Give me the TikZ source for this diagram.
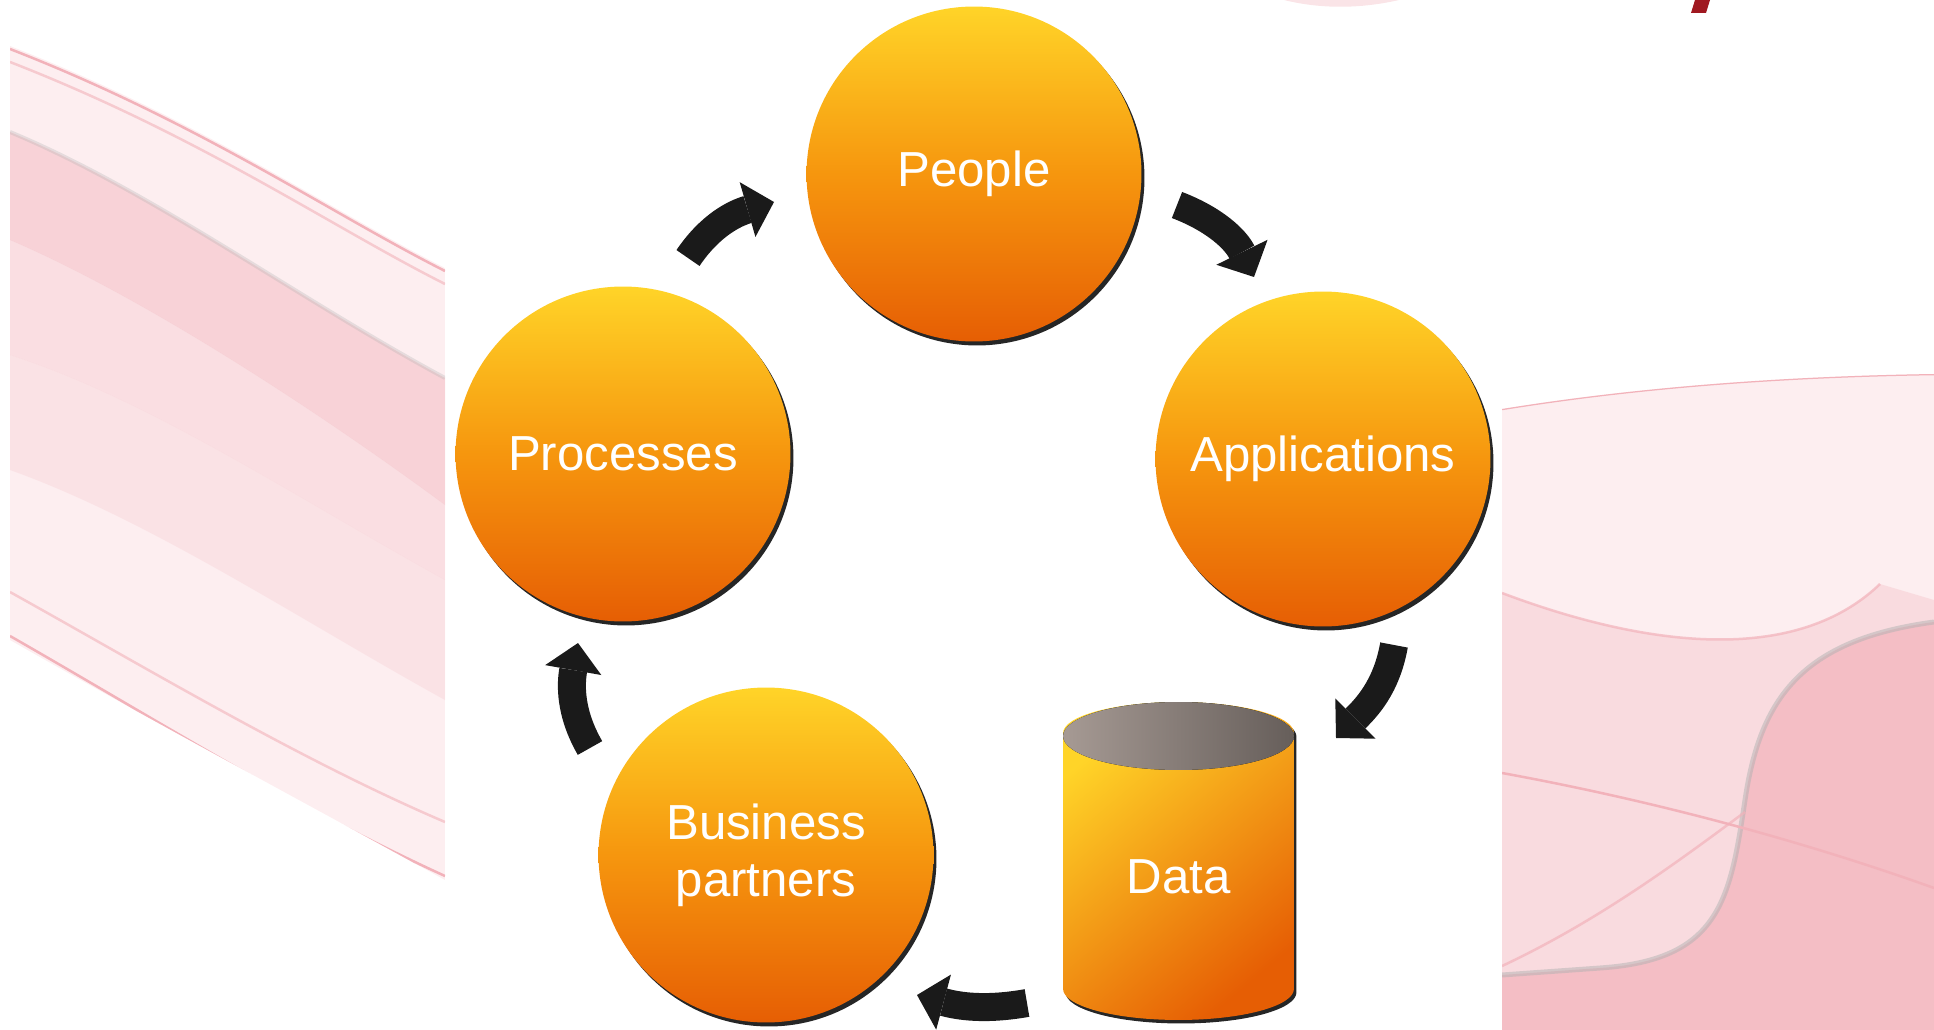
\documentclass[tikz,border=0pt]{standalone}
\usepackage{fontspec}
\setmainfont{Liberation Sans}
\usepackage{tikz}
\usetikzlibrary{shapes,arrows,arrows.meta,positioning,shadows,calc}
\definecolor{ballTop}{RGB}{255,212,40}
\definecolor{ballMid}{RGB}{246,150,14}
\definecolor{ballBot}{RGB}{230,94,4}
\definecolor{lidLight}{RGB}{166,154,148}
\definecolor{lidDark}{RGB}{102,94,90}
\definecolor{arrowBlack}{RGB}{26,26,26}
\definecolor{wavePink}{RGB}{242,178,186}
\definecolor{waveLight}{RGB}{253,238,240}
\definecolor{logoRed}{RGB}{160,24,32}
\tikzstyle{ball} = [circle, minimum size=6.7cm, inner sep=0pt, top color=ballTop, bottom color=ballBot, middle color=ballMid, text=white, align=center, font=\fontsize{28}{32.5}\selectfont, drop shadow={shadow xshift=0.06cm, shadow yshift=-0.08cm, opacity=1, fill=black!85}]
\tikzstyle{drum} = [cylinder, shape border rotate=90, aspect=0.6, minimum width=4.62cm, minimum height=6.36cm, inner sep=0pt, top color=ballTop, bottom color=ballBot, shading angle=40, text=white, font=\fontsize{28}{32.5}\selectfont, drop shadow={shadow xshift=0.05cm, shadow yshift=-0.07cm, opacity=1, fill=black!85}]
\tikzstyle{lid} = [left color=lidLight, right color=lidDark]
\tikzstyle{cyc} = [draw=arrowBlack, line width=0.56cm, -{Triangle[length=0.55cm, width=1.14cm, line width=0pt]}]
\tikzstyle{wave} = [draw=wavePink, line width=0.05cm]

\begin{document}
\begin{tikzpicture}[x=0.02cm, y=0.02cm]
\useasboundingbox (0,0) rectangle (1934,-1030);

% background =============================

% left swirl
\begin{scope}
\clip (10,-46) .. controls (200,-120) and (330,-210) .. (445,-268) -- (445,-880) .. controls (300,-800) and (150,-720) .. (10,-640) -- cycle;
\fill[waveLight] (0,0) rectangle (445,-1030);
\fill[wavePink, opacity=.45] (10,-132) .. controls (150,-190) and (300,-300) .. (445,-378) -- (445,-505) .. controls (330,-420) and (150,-300) .. (10,-240) -- cycle;
\fill[wavePink, opacity=.25] (10,-240) .. controls (150,-300) and (330,-420) .. (445,-505) -- (445,-580) .. controls (300,-500) and (150,-400) .. (10,-355) -- cycle;
\fill[wavePink, opacity=.2] (10,-355) .. controls (150,-400) and (300,-500) .. (445,-580) -- (445,-700) .. controls (300,-620) and (150,-520) .. (10,-470) -- cycle;
\draw[gray!60, line width=0.08cm, opacity=.3] (10,-132) .. controls (150,-190) and (300,-300) .. (445,-378);
\draw[wave] (10,-49) .. controls (200,-123) and (330,-213) .. (445,-271);
\draw[wave, opacity=.6] (10,-62) .. controls (200,-136) and (330,-226) .. (445,-284);
\draw[wave, opacity=.6] (10,-592) .. controls (150,-670) and (300,-760) .. (445,-822);
\draw[wave] (10,-636) .. controls (150,-716) and (300,-810) .. (445,-876);
\end{scope}

% right swirl
\begin{scope}
\clip (1502,-409) .. controls (1650,-385) and (1800,-376) .. (1934,-374) -- (1934,-1030) -- (1502,-1030) -- cycle;
\fill[waveLight] (1502,0) rectangle (1934,-1030);
\fill[wavePink, opacity=.3] (1502,-593) .. controls (1600,-630) and (1780,-680) .. (1880,-584) -- (1934,-600) -- (1934,-1030) -- (1502,-1030) -- cycle;
\fill[wavePink, opacity=.7] (1934,-622) .. controls (1800,-640) and (1760,-700) .. (1745,-800) .. controls (1730,-900) and (1720,-960) .. (1600,-968) -- (1502,-975) -- (1502,-1030) -- (1934,-1030) -- cycle;
\draw[gray!60, line width=0.1cm, opacity=.5] (1934,-622) .. controls (1800,-640) and (1760,-700) .. (1745,-800) .. controls (1730,-900) and (1720,-960) .. (1600,-968) -- (1502,-975);
\draw[wave] (1502,-409) .. controls (1650,-385) and (1800,-376) .. (1934,-374);
\draw[wave, opacity=.7] (1502,-593) .. controls (1600,-630) and (1780,-680) .. (1880,-584);
\draw[wave] (1502,-773) .. controls (1650,-800) and (1800,-840) .. (1934,-888);
\draw[wave, opacity=.7] (1502,-966) .. controls (1600,-920) and (1680,-860) .. (1745,-812);
\end{scope}

% top marks
\fill[wavePink, opacity=.35] (1284,0) .. controls (1320,-9) and (1360,-9) .. (1399,0) -- cycle;
\fill[logoRed] (1695,0) -- (1710,0) -- (1706,-13) -- (1691,-13) -- cycle;

% shapes =============================

\node[ball] (people) at (974,-174) {People};
\node[ball] (apps) at (1323,-459) {Applications};
\node[ball] (proc) at (623,-454) {Processes};
\node[ball] (partners) at (766,-855) {Business\\partners};
\node[drum, anchor=shape center] (data) at (1178.5,-861) {Data};
\fill[lid] ($(data.shape center)+(0,125)$) ellipse [x radius=2.31cm, y radius=0.68cm];

% arrow ends
\coordinate (proc-out) at (688,-258);
\coordinate (people-in) at (774,-202);
\coordinate (people-out) at (1177,-205);
\coordinate (apps-in) at (1254,-277);
\coordinate (apps-out) at (1394,-645);
\coordinate (data-in) at (1336,-738);
\coordinate (data-out) at (1027,-1003);
\coordinate (partners-in) at (917,-995);
\coordinate (partners-out) at (590,-748);
\coordinate (proc-in) at (578,-643);

%edges
\path[cyc] (proc-out) to[out=56, in=196] (people-in);
\path[cyc] (people-out) to[out=-21, in=116] (apps-in);
\path[cyc] (apps-out) to[out=-100, in=45] (data-in);
\path[cyc] (data-out) to[out=190, in=-15] (partners-in);
\path[cyc] (partners-out) to[out=120, in=-100] (proc-in);

\end{tikzpicture}
\end{document}
